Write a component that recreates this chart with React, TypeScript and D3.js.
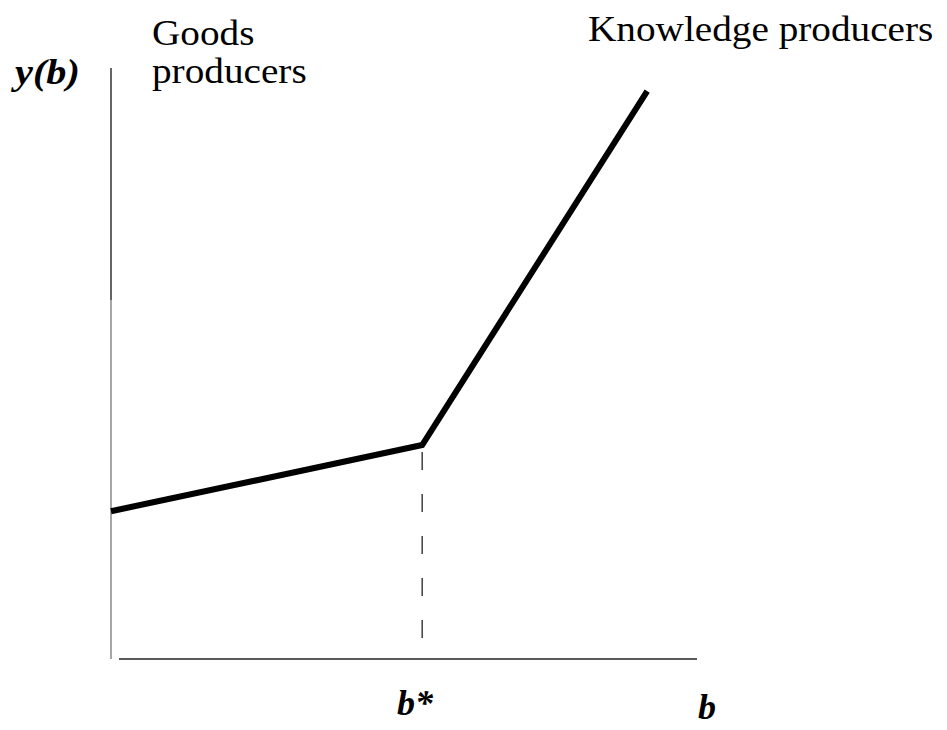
import React from 'react';
import * as d3 from 'd3';

// kinked income schedule y(b)
const bValues = [0, 5.31, 9.15];
const yValues = [2.5, 3.62, 9.61];
const bStar = 5.31;

const W = 947;
const H = 730;

// text in the source is a bit wider than Times at the same height
const stretch = (x: number, y: number, s = 1.09) => `translate(${x},${y}) scale(${s},1)`;

export default function App() {
  const x = d3.scaleLinear().domain([0, 10]).range([111, 697]);
  const y = d3.scaleLinear().domain([0, 10]).range([659, 68]);

  const line = d3
    .line<number>()
    .x((_, i) => x(bValues[i]))
    .y((d) => y(d));

  const serif = '"Liberation Serif", "Times New Roman", serif';

  return (
    <svg
      width={W}
      height={H}
      style={{ position: 'absolute', left: 0, top: 0, background: '#fff' }}
    >
      {/* y axis: dark upper part, greyer lower part */}
      <line x1={x(0)} x2={x(0)} y1={y(10)} y2={300} stroke="#333" strokeWidth={1.5} />
      <line x1={x(0)} x2={x(0)} y1={300} y2={y(0)} stroke="#888" strokeWidth={1.5} />
      {/* x axis */}
      <line x1={119} x2={x(10)} y1={y(0)} y2={y(0)} stroke="#222" strokeWidth={1.5} />

      {/* dashed drop line at b* */}
      <line
        x1={x(bStar)}
        x2={x(bStar)}
        y1={y(yValues[1]) + 7}
        y2={y(0) - 17}
        stroke="#222"
        strokeWidth={1.3}
        strokeDasharray="18 24"
      />

      <path d={line(yValues) ?? ''} fill="none" stroke="#000" strokeWidth={6} strokeLinejoin="miter" />

      <g fontFamily={serif} fill="#000">
        <text transform={stretch(152, 45)} fontSize={36}>Goods</text>
        <text transform={stretch(152, 83)} fontSize={36}>producers</text>
        <text transform={stretch(588, 41)} fontSize={36}>Knowledge producers</text>
        <text transform={stretch(15, 84, 1.12)} fontSize={36} fontWeight="bold" fontStyle="italic">y(b)</text>
        <text x={397} y={715} fontSize={36} fontWeight="bold" fontStyle="italic">b*</text>
        <text x={698} y={719} fontSize={36} fontWeight="bold" fontStyle="italic">b</text>
      </g>
    </svg>
  );
}
